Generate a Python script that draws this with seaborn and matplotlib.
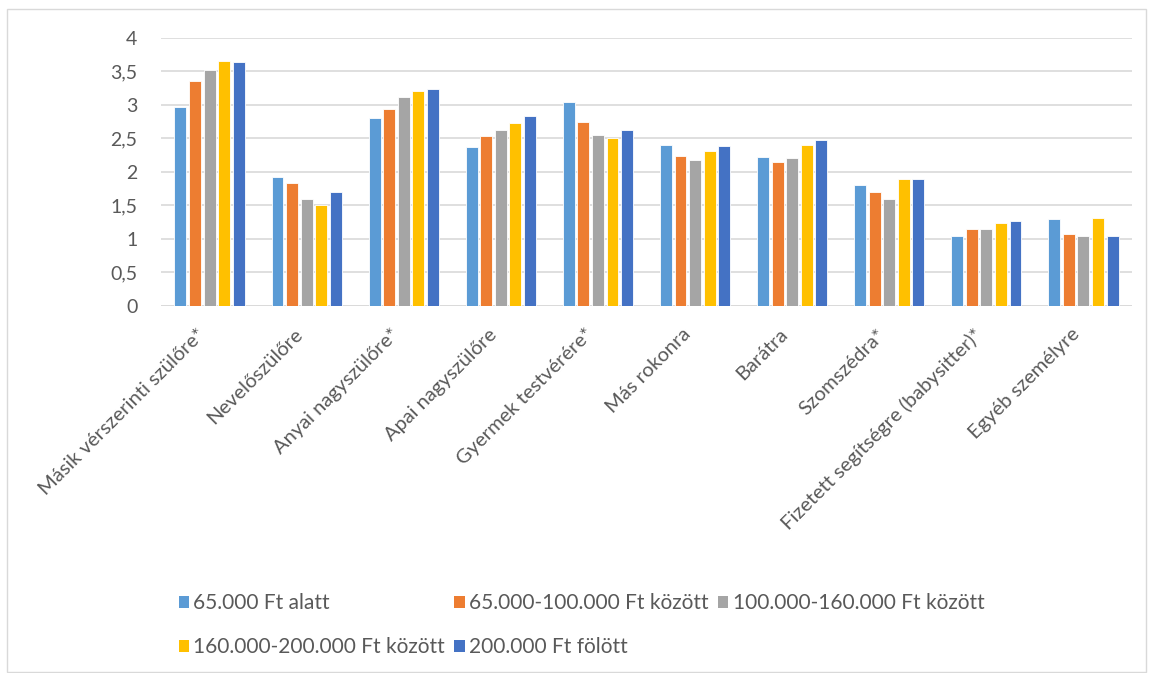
import pandas as pd
import numpy as np
import matplotlib
matplotlib.use('Agg')
import matplotlib.pyplot as plt
import seaborn as sns
from matplotlib.ticker import FuncFormatter
from matplotlib.patches import Patch, Rectangle

categories = ['Másik vérszerinti szülőre*', 'Nevelőszülőre', 'Anyai nagyszülőre*',
              'Apai nagyszülőre', 'Gyermek testvérére*', 'Más rokonra', 'Barátra',
              'Szomszédra*', 'Fizetett segítségre (babysitter)*', 'Egyéb személyre']
groups = ['65.000 Ft alatt', '65.000-100.000 Ft között', '100.000-160.000 Ft között',
          '160.000-200.000 Ft között', '200.000 Ft fölött']

under_65 = [2.97, 1.92, 2.81, 2.37, 3.04, 2.40, 2.22, 1.80, 1.04, 1.29]
from_65_100 = [3.36, 1.84, 2.94, 2.54, 2.74, 2.24, 2.15, 1.70, 1.15, 1.08]
from_100_160 = [3.52, 1.60, 3.12, 2.62, 2.55, 2.18, 2.21, 1.60, 1.15, 1.04]
from_160_200 = [3.65, 1.50, 3.20, 2.73, 2.51, 2.31, 2.40, 1.90, 1.24, 1.31]
over_200 = [3.64, 1.70, 3.24, 2.84, 2.62, 2.38, 2.48, 1.90, 1.26, 1.04]

colors = ['#5B9BD5', '#ED7D31', '#A5A5A5', '#FFC000', '#4472C4']

series = [under_65, from_65_100, from_100_160, from_160_200, over_200]
df = pd.DataFrame({
    'kategoria': categories * len(groups),
    'jovedelem': np.repeat(groups, len(categories)),
    'ertek': np.concatenate(series),
})

sns.set_style('white')
plt.rcParams['font.family'] = ['Lato', 'DejaVu Sans']
txt = '#595959'

fig = plt.figure(figsize=(11.53, 6.73), dpi=100)
ax = fig.add_axes([161 / 1153, 1 - 306 / 673, (1132 - 161) / 1153, (306 - 37.7) / 673])

sns.barplot(data=df, x='kategoria', y='ertek', hue='jovedelem', order=categories,
            hue_order=groups, palette=colors, saturation=1, width=0.75, gap=0.18,
            edgecolor='white', linewidth=0.6, ax=ax, legend=False)

ax.set_ylim(0, 4)
ax.set_yticks(np.arange(0, 4.01, 0.5))
ax.yaxis.set_major_formatter(FuncFormatter(lambda v, p: ('%g' % v).replace('.', ',')))
ax.grid(axis='y', color='#D9D9D9', linewidth=1.2)
ax.set_axisbelow(True)
for s in ax.spines.values():
    s.set_visible(False)
ax.axhline(0, color='#D9D9D9', linewidth=1.2, zorder=0.5)
ax.set_xlabel('')
ax.set_ylabel('')
ax.tick_params(axis='y', length=0, pad=17, labelsize=14, labelcolor=txt)
ax.tick_params(axis='x', length=0, pad=4, labelsize=14.5, labelcolor=txt)
ax.set_xlim(-0.5, len(categories) - 0.5)
plt.setp(ax.get_xticklabels(), rotation=45, ha='right', va='top', rotation_mode='anchor')
offset = matplotlib.transforms.ScaledTranslation(-0.13, -0.14, fig.dpi_scale_trans)
for lab in ax.get_xticklabels():
    lab.set_transform(lab.get_transform() + offset)

# legend, filled row by row like the original
handles = [Patch(facecolor=c, edgecolor='none') for c in colors]
order = [0, 3, 1, 4, 2]
fig.legend([handles[i] for i in order], [groups[i] for i in order], ncol=3,
           loc='center left', bbox_to_anchor=(160 / 1153, 1 - 625 / 673),
           frameon=False, fontsize=15, labelcolor=txt, handlelength=0.5,
           handleheight=0.5, handletextpad=0.2, columnspacing=0.45, labelspacing=1.15)

fig.add_artist(Rectangle((7 / 1153, 0.002), 1 - 14 / 1153, 1 - 10 / 673,
                         transform=fig.transFigure, fill=False, edgecolor='#D9D9D9', linewidth=1))

fig.savefig('out.png', dpi=100)
